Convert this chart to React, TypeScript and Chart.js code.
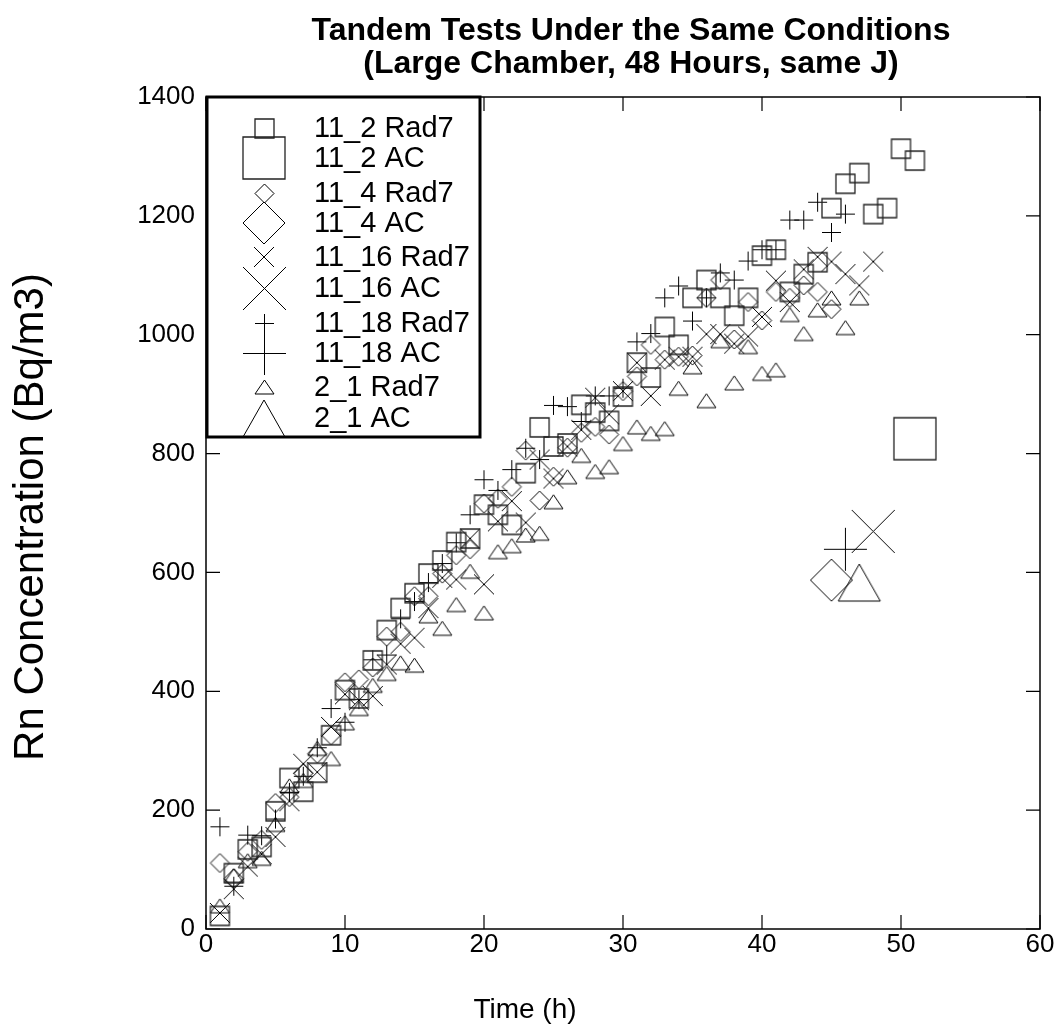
import React, { useEffect, useRef } from "react";
import { Chart, registerables } from "chart.js";

Chart.register(...registerables);

// ---------------- data ----------------
const hours_11_2_rad7 = [1, 2, 3, 4, 5, 6, 7, 8, 9, 10, 11, 12, 13, 14, 15, 16, 17, 18, 19, 20, 21, 22, 23, 24, 25, 26, 27, 28, 29, 30, 31, 32, 33, 34, 35, 36, 37, 38, 39, 40, 41, 42, 43, 44, 45, 46, 47, 48, 49, 50, 51];
const conc_11_2_rad7 = [22, 94, 134, 138, 198, 254, 231, 263, 326, 402, 388, 452, 503, 540, 565, 598, 620, 651, 657, 714, 697, 680, 767, 844, 812, 817, 882, 869, 855, 896, 953, 928, 1013, 983, 1062, 1092, 1062, 1032, 1062, 1133, 1143, 1072, 1102, 1122, 1213, 1254, 1272, 1203, 1213, 1313, 1293];

const hours_11_2_ac = [51];
const conc_11_2_ac = [825];

const hours_11_4_rad7 = [1, 2, 3, 4, 5, 6, 7, 8, 9, 10, 11, 12, 13, 14, 15, 16, 17, 18, 19, 20, 21, 22, 23, 24, 25, 26, 27, 28, 29, 30, 31, 32, 33, 34, 35, 36, 37, 38, 39, 40, 41, 42, 43, 44, 45];
const conc_11_4_rad7 = [111, 85, 130, 150, 212, 222, 262, 295, 326, 415, 420, 440, 492, 500, 560, 560, 598, 629, 639, 716, 724, 744, 805, 721, 761, 810, 835, 845, 832, 905, 930, 983, 958, 963, 965, 1062, 1092, 992, 1055, 1024, 1072, 1062, 1083, 1072, 1043];

const hours_11_4_ac = [45];
const conc_11_4_ac = [587];

const hours_11_16_rad7 = [1, 2, 3, 4, 5, 6, 7, 8, 9, 10, 11, 12, 13, 14, 15, 16, 17, 18, 19, 20, 21, 22, 23, 24, 25, 26, 27, 28, 29, 30, 31, 32, 33, 34, 35, 36, 37, 38, 39, 40, 41, 42, 43, 44, 45, 46, 47, 48];
const conc_11_16_rad7 = [27, 67, 105, 126, 155, 215, 278, 264, 340, 395, 385, 392, 445, 480, 490, 540, 591, 588, 657, 580, 686, 720, 684, 790, 758, 812, 840, 894, 866, 905, 953, 897, 958, 963, 963, 1001, 1001, 985, 997, 1030, 1091, 1055, 1110, 1131, 1123, 1102, 1083, 1123];

const hours_11_16_ac = [48];
const conc_11_16_ac = [669];

const hours_11_18_rad7 = [1, 2, 3, 4, 5, 6, 7, 8, 9, 10, 11, 12, 13, 14, 15, 16, 17, 18, 19, 20, 21, 22, 23, 24, 25, 26, 27, 28, 29, 30, 31, 32, 33, 34, 35, 36, 37, 38, 39, 40, 41, 42, 43, 44, 45, 46];
const conc_11_18_rad7 = [172, 72, 158, 157, 185, 230, 257, 305, 371, 348, 386, 453, 461, 522, 551, 583, 615, 650, 697, 756, 738, 773, 809, 790, 881, 879, 854, 897, 897, 910, 988, 1002, 1062, 1082, 1023, 1062, 1104, 1092, 1124, 1143, 1143, 1193, 1193, 1223, 1172, 1203];

const hours_11_18_ac = [46];
const conc_11_18_ac = [639];

const hours_2_1_rad7 = [1, 2, 3, 4, 5, 6, 7, 8, 9, 10, 11, 12, 13, 14, 15, 16, 17, 18, 19, 20, 21, 22, 23, 24, 25, 26, 27, 28, 29, 30, 31, 32, 33, 34, 35, 36, 37, 38, 39, 40, 41, 42, 43, 44, 45, 46, 47];
const conc_2_1_rad7 = [39, 90, 115, 119, 176, 241, 250, 304, 287, 347, 371, 410, 430, 448, 444, 527, 506, 546, 602, 532, 635, 645, 663, 666, 719, 761, 797, 770, 778, 817, 845, 834, 842, 910, 946, 889, 990, 919, 980, 935, 941, 1034, 1002, 1042, 1062, 1012, 1062];

const hours_2_1_ac = [47];
const conc_2_1_ac = [583];

const seriesLabels = ["11_2 Rad7", "11_2 AC", "11_4 Rad7", "11_4 AC", "11_16 Rad7", "11_16 AC", "11_18 Rad7", "11_18 AC", "2_1 Rad7", "2_1 AC"];

const xTicks = [0, 10, 20, 30, 40, 50, 60];
const yTicks = [0, 200, 400, 600, 800, 1000, 1200, 1400];

const titleLines = ["Tandem Tests Under the Same Conditions", "(Large Chamber, 48 Hours, same J)"];
const xAxisTitle = "Time (h)";
const yAxisTitle = "Rn Concentration (Bq/m3)";

// ---------------- markers ----------------
const FONT = '"Liberation Sans", Arial, Helvetica, sans-serif';

function makeMarker(shape: string, w: number, h: number, color: string, lw: number): HTMLCanvasElement {
  const c = document.createElement("canvas");
  const pad = 2;
  c.width = Math.ceil(w + pad * 2);
  c.height = Math.ceil(h + pad * 2);
  const ctx = c.getContext("2d") as CanvasRenderingContext2D;
  ctx.strokeStyle = color;
  ctx.lineWidth = lw;
  const cx = c.width / 2;
  const cy = c.height / 2;
  ctx.beginPath();
  if (shape === "square") {
    ctx.rect(cx - w / 2, cy - h / 2, w, h);
  } else if (shape === "diamond") {
    ctx.moveTo(cx, cy - h / 2);
    ctx.lineTo(cx + w / 2, cy);
    ctx.lineTo(cx, cy + h / 2);
    ctx.lineTo(cx - w / 2, cy);
    ctx.closePath();
  } else if (shape === "x") {
    ctx.moveTo(cx - w / 2, cy - h / 2);
    ctx.lineTo(cx + w / 2, cy + h / 2);
    ctx.moveTo(cx + w / 2, cy - h / 2);
    ctx.lineTo(cx - w / 2, cy + h / 2);
  } else if (shape === "plus") {
    ctx.moveTo(cx - w / 2, cy);
    ctx.lineTo(cx + w / 2, cy);
    ctx.moveTo(cx, cy - h / 2);
    ctx.lineTo(cx, cy + h / 2);
  } else if (shape === "triangle") {
    ctx.moveTo(cx, cy - h / 2);
    ctx.lineTo(cx + w / 2, cy + h / 2);
    ctx.lineTo(cx - w / 2, cy + h / 2);
    ctx.closePath();
  }
  ctx.stroke();
  return c;
}

export default function App() {
  const canvasRef = useRef<HTMLCanvasElement | null>(null);

  useEffect(() => {
    document.body.style.margin = "0";
    const canvas = canvasRef.current;
    if (!canvas) return;

    const markers = [
      makeMarker("square", 19, 19, "#222", 1.3),
      makeMarker("square", 42, 42, "#222", 1.3),
      makeMarker("diamond", 19, 19, "#000", 1),
      makeMarker("diamond", 42, 42, "#000", 1),
      makeMarker("x", 20, 20, "#000", 1),
      makeMarker("x", 43, 43, "#000", 1),
      makeMarker("plus", 19, 19, "#000", 1),
      makeMarker("plus", 43, 43, "#000", 1),
      makeMarker("triangle", 19, 14, "#000", 1),
      makeMarker("triangle", 42, 37, "#000", 1),
    ];

    const pairs: [number[], number[]][] = [
      [hours_11_2_rad7, conc_11_2_rad7],
      [hours_11_2_ac, conc_11_2_ac],
      [hours_11_4_rad7, conc_11_4_rad7],
      [hours_11_4_ac, conc_11_4_ac],
      [hours_11_16_rad7, conc_11_16_rad7],
      [hours_11_16_ac, conc_11_16_ac],
      [hours_11_18_rad7, conc_11_18_rad7],
      [hours_11_18_ac, conc_11_18_ac],
      [hours_2_1_rad7, conc_2_1_rad7],
      [hours_2_1_ac, conc_2_1_ac],
    ];

    const datasets = pairs.map(([xs, ys], i) => ({
      label: seriesLabels[i],
      data: xs.map((x, j) => ({ x, y: ys[j] })),
      pointStyle: markers[i] as any,
      pointRadius: 10,
      showLine: false,
      clip: false as any,
    }));

    const decor = {
      id: "decor",
      afterDraw(chart: any) {
        const ctx = chart.ctx as CanvasRenderingContext2D;
        const area = chart.chartArea;
        const xs = chart.scales.x;
        const ys = chart.scales.y;
        ctx.save();
        // frame
        ctx.strokeStyle = "#000";
        ctx.lineWidth = 1.5;
        ctx.strokeRect(area.left, area.top, area.right - area.left, area.bottom - area.top);
        // inward ticks
        ctx.lineWidth = 1.2;
        const tl = 14;
        ctx.beginPath();
        xTicks.forEach((t) => {
          const px = xs.getPixelForValue(t);
          ctx.moveTo(px, area.bottom);
          ctx.lineTo(px, area.bottom - tl);
          ctx.moveTo(px, area.top);
          ctx.lineTo(px, area.top + tl);
        });
        yTicks.forEach((t) => {
          const py = ys.getPixelForValue(t);
          ctx.moveTo(area.left, py);
          ctx.lineTo(area.left + tl, py);
          ctx.moveTo(area.right, py);
          ctx.lineTo(area.right - tl, py);
        });
        ctx.stroke();

        // legend box
        const lx = 207, ly = 97, lw = 273, lh = 340;
        ctx.fillStyle = "#fff";
        ctx.fillRect(lx, ly, lw, lh);
        ctx.lineWidth = 3;
        ctx.strokeStyle = "#000";
        ctx.strokeRect(lx, ly, lw, lh);
        const rowsY = [128, 158, 193, 223, 257, 288, 323, 353, 387, 418];
        ctx.font = `29px ${FONT}`;
        ctx.fillStyle = "#000";
        ctx.textAlign = "left";
        ctx.textBaseline = "middle";
        rowsY.forEach((ry, i) => {
          const m = markers[i];
          ctx.drawImage(m, Math.round(264 - m.width / 2), Math.round(ry - m.height / 2));
          ctx.fillText(seriesLabels[i], 314, ry + 1);
        });

        // title
        ctx.font = `bold 32px ${FONT}`;
        ctx.textAlign = "center";
        ctx.fillText(titleLines[0], 631, 31);
        ctx.fillText(titleLines[1], 631, 64);

        // x axis title
        ctx.font = `28px ${FONT}`;
        ctx.fillText(xAxisTitle, 525, 1010);

        // y axis title
        ctx.save();
        ctx.translate(31, 517);
        ctx.rotate(-Math.PI / 2);
        ctx.font = `42px ${FONT}`;
        ctx.fillText(yAxisTitle, 0, 0);
        ctx.restore();

        ctx.restore();
      },
    };

    const chart = new Chart(canvas, {
      type: "scatter",
      data: { datasets: datasets as any },
      options: {
        animation: false,
        responsive: false,
        maintainAspectRatio: false,
        layout: { padding: { left: 0, right: 22, top: 97, bottom: 0 } },
        plugins: {
          legend: { display: false },
          tooltip: { enabled: false },
          title: { display: false },
        },
        scales: {
          x: {
            type: "linear",
            min: 0,
            max: 60,
            afterBuildTicks: (s: any) => {
              s.ticks = xTicks.map((v) => ({ value: v }));
            },
            ticks: {
              font: { family: FONT, size: 26 },
              color: "#000",
              padding: 0,
              maxRotation: 0,
              callback: (v: any) => String(v),
            },
            grid: { display: false, drawTicks: false },
            border: { display: false },
            afterFit: (s: any) => {
              s.height = 107;
            },
          },
          y: {
            type: "linear",
            min: 0,
            max: 1400,
            afterBuildTicks: (s: any) => {
              s.ticks = yTicks.map((v) => ({ value: v }));
            },
            ticks: {
              font: { family: FONT, size: 26 },
              color: "#000",
              padding: 11,
              callback: (v: any) => String(v),
            },
            grid: { display: false, drawTicks: false },
            border: { display: false },
            afterFit: (s: any) => {
              s.width = 206;
            },
          },
        },
      },
      plugins: [decor],
    });

    return () => {
      chart.destroy();
    };
  }, []);

  return (
    <div style={{ width: 1062, height: 1036, background: "#fff" }}>
      <canvas ref={canvasRef} width={1062} height={1036} style={{ display: "block" }} />
    </div>
  );
}
